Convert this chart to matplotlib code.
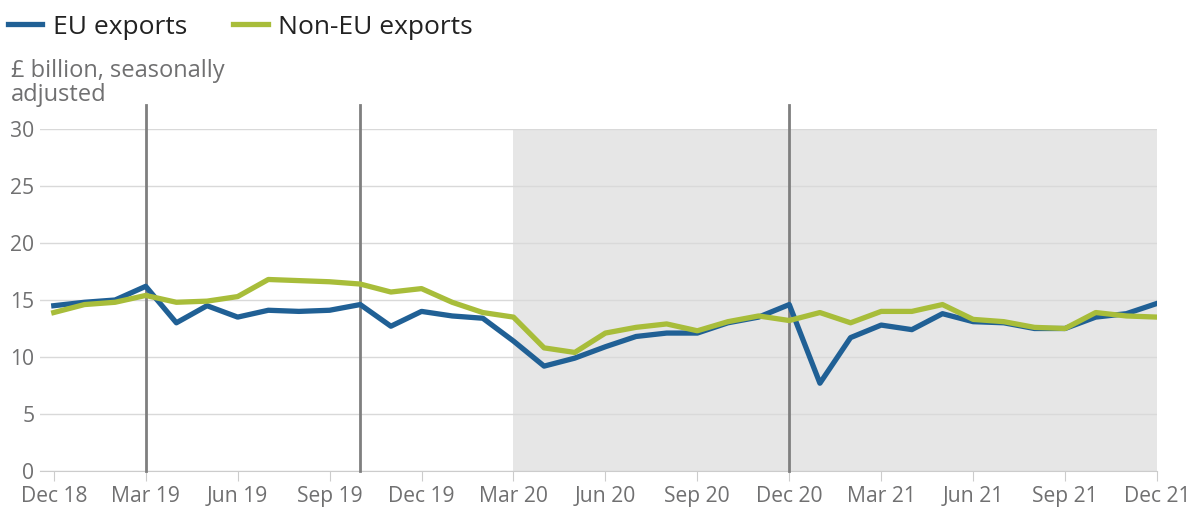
import matplotlib
matplotlib.use("Agg")
import matplotlib.pyplot as plt
import numpy as np

months = ["Dec 18", "Jan 19", "Feb 19", "Mar 19", "Apr 19", "May 19", "Jun 19", "Jul 19",
          "Aug 19", "Sep 19", "Oct 19", "Nov 19", "Dec 19", "Jan 20", "Feb 20", "Mar 20",
          "Apr 20", "May 20", "Jun 20", "Jul 20", "Aug 20", "Sep 20", "Oct 20", "Nov 20",
          "Dec 20", "Jan 21", "Feb 21", "Mar 21", "Apr 21", "May 21", "Jun 21", "Jul 21",
          "Aug 21", "Sep 21", "Oct 21", "Nov 21", "Dec 21"]

eu_exports = [14.5, 14.8, 15.0, 16.2, 13.0, 14.5, 13.5, 14.1, 14.0, 14.1, 14.6, 12.7,
              14.0, 13.6, 13.4, 11.4, 9.2, 9.9, 10.9, 11.8, 12.1, 12.1, 13.0, 13.5,
              14.6, 7.7, 11.7, 12.8, 12.4, 13.8, 13.1, 13.0, 12.5, 12.5, 13.5, 13.8, 14.7]

non_eu_exports = [13.9, 14.6, 14.8, 15.4, 14.8, 14.9, 15.3, 16.8, 16.7, 16.6, 16.4, 15.7,
                  16.0, 14.8, 13.9, 13.5, 10.8, 10.4, 12.1, 12.6, 12.9, 12.3, 13.1, 13.6,
                  13.2, 13.9, 13.0, 14.0, 14.0, 14.6, 13.3, 13.1, 12.6, 12.5, 13.9, 13.6, 13.5]

marker_months = ["Mar 19", "Oct 19", "Dec 20"]
shade_from = "Mar 20"

plt.rcParams["font.family"] = ["Open Sans", "DejaVu Sans"]

BLUE = "#206095"
GREEN = "#a8bd3a"
GREY = "#707071"

x = np.arange(len(months))

fig = plt.figure(figsize=(11.94, 5.12), dpi=100)
ax = fig.add_axes([40 / 1194, 1 - 471 / 512, (1157 - 40) / 1194, 342 / 512])

ax.axvspan(months.index(shade_from), len(months) - 1, color="#e6e6e6", zorder=0, lw=0)
for m in marker_months:
    ax.axvline(months.index(m), ymin=0, ymax=1.07, color="#7f7f7f", lw=2, clip_on=False, zorder=3)

ax.plot(x, eu_exports, color=BLUE, lw=3.8, label="EU exports", zorder=4)
ax.plot(x, non_eu_exports, color=GREEN, lw=3.8, label="Non-EU exports", zorder=4)

ax.set_xlim(-0.45, len(months) - 1)
ax.set_ylim(0, 30)
ax.set_yticks(range(0, 31, 5))
ax.set_xticks(x[::3])
ax.set_xticklabels(months[::3])
ax.grid(axis="y", color="#d9d9d9", lw=1, zorder=1)
ax.set_axisbelow(True)
for s in ["top", "right", "left"]:
    ax.spines[s].set_visible(False)
ax.spines["bottom"].set_color("#cccccc")
ax.tick_params(axis="x", length=7, color="#cccccc", labelsize=15.2, labelcolor=GREY, pad=4)
ax.tick_params(axis="y", length=0, labelsize=15.2, labelcolor=GREY, pad=4)

fig.text(11 / 1194, 1 - 59 / 512, "£ billion, seasonally\nadjusted", fontsize=17,
         color=GREY, va="top", ha="left", linespacing=1.0)

fig.legend(loc="center left", bbox_to_anchor=(8 / 1194, 1 - 27 / 512), ncol=2, frameon=False,
           fontsize=19, handlelength=1.3, handletextpad=0.4, columnspacing=1.75,
           borderpad=0, borderaxespad=0, labelcolor="#222222")

fig.savefig("out.png", dpi=100)
